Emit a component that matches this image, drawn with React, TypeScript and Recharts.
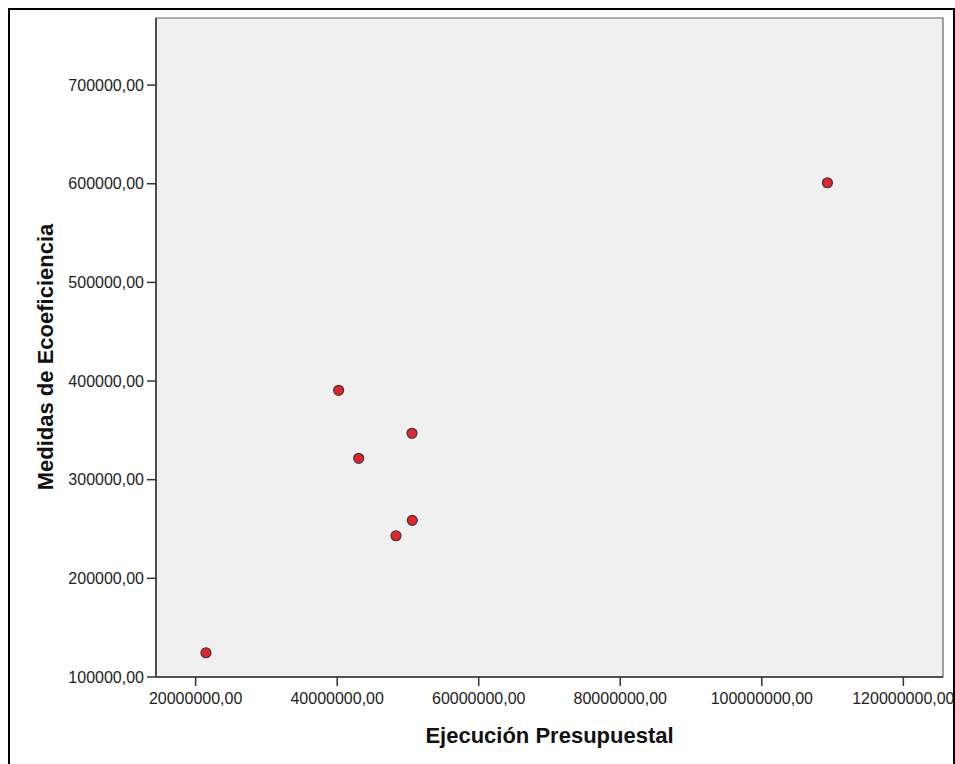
import React from "react";
import { ScatterChart, Scatter, XAxis, YAxis, ReferenceArea } from "recharts";

const ejecucion = [21460000, 40210000, 43040000, 50570000, 50610000, 48310000, 109270000];
const medidas = [124600, 390600, 321700, 347000, 258800, 243200, 601000];
const xTicks = [20000000, 40000000, 60000000, 80000000, 100000000, 120000000];
const yTicks = [100000, 200000, 300000, 400000, 500000, 600000, 700000];
const xDomain = [14400000, 125600000];
const yDomain = [100000, 768000];

const data = ejecucion.map((x, i) => ({ x, y: medidas[i] }));
const fmt = (v: number) => v.toFixed(2).replace(".", ",");
const FONT = "'Liberation Sans', Arial, sans-serif";

const Dot = (p: any) => (
  <circle cx={p.cx} cy={p.cy} r={5} fill="#e5232b" stroke="#3a3a3a" strokeWidth={1.2} />
);

export default function App() {
  return (
    <div
      style={{
        position: "fixed",
        left: 8,
        top: 8,
        width: 947,
        height: 770,
        boxSizing: "border-box",
        borderLeft: "2px solid #000",
        borderTop: "2px solid #000",
        borderRight: "2px solid #000",
        overflow: "hidden",
        background: "#fff",
      }}
    >
      <ScatterChart width={943} height={760} margin={{ top: 8, right: 10, bottom: 0, left: 0 }}>
        <ReferenceArea
          x1={xDomain[0]}
          x2={xDomain[1]}
          y1={yDomain[0]}
          y2={yDomain[1]}
          fill="#f0f0f0"
          fillOpacity={1}
          stroke="#666"
          strokeWidth={1.2}
        />
        <XAxis
          type="number"
          dataKey="x"
          domain={xDomain}
          ticks={xTicks}
          tickFormatter={fmt}
          allowDataOverflow
          height={93}
          tickSize={9}
          tickMargin={7}
          axisLine={{ stroke: "#333", strokeWidth: 1.5 }}
          tickLine={{ stroke: "#333", strokeWidth: 1.5 }}
          tick={{ fill: "#222", fontSize: 16, fontFamily: FONT }}
          interval={0}
          label={{
            content: (props: any) => {
              const vb = props.viewBox;
              return (
                <text
                  x={vb.x + vb.width / 2}
                  y={733}
                  textAnchor="middle"
                  fontFamily={FONT}
                  fontWeight="bold"
                  fontSize={22}
                  fill="#111"
                >
                  Ejecución Presupuestal
                </text>
              );
            },
          }}
        />
        <YAxis
          type="number"
          dataKey="y"
          domain={yDomain}
          ticks={yTicks}
          tickFormatter={fmt}
          allowDataOverflow
          width={146}
          tickSize={9}
          tickMargin={3}
          axisLine={{ stroke: "#333", strokeWidth: 1.5 }}
          tickLine={{ stroke: "#333", strokeWidth: 1.5 }}
          tick={{ fill: "#222", fontSize: 16, fontFamily: FONT }}
          interval={0}
          label={{
            content: () => (
              <text
                x={43}
                y={347}
                transform="rotate(-90, 43, 347)"
                textAnchor="middle"
                fontFamily={FONT}
                fontWeight="bold"
                fontSize={22}
                fill="#111"
              >
                Medidas de Ecoeficiencia
              </text>
            ),
          }}
        />
        <Scatter data={data} shape={Dot} isAnimationActive={false} />
      </ScatterChart>
    </div>
  );
}
